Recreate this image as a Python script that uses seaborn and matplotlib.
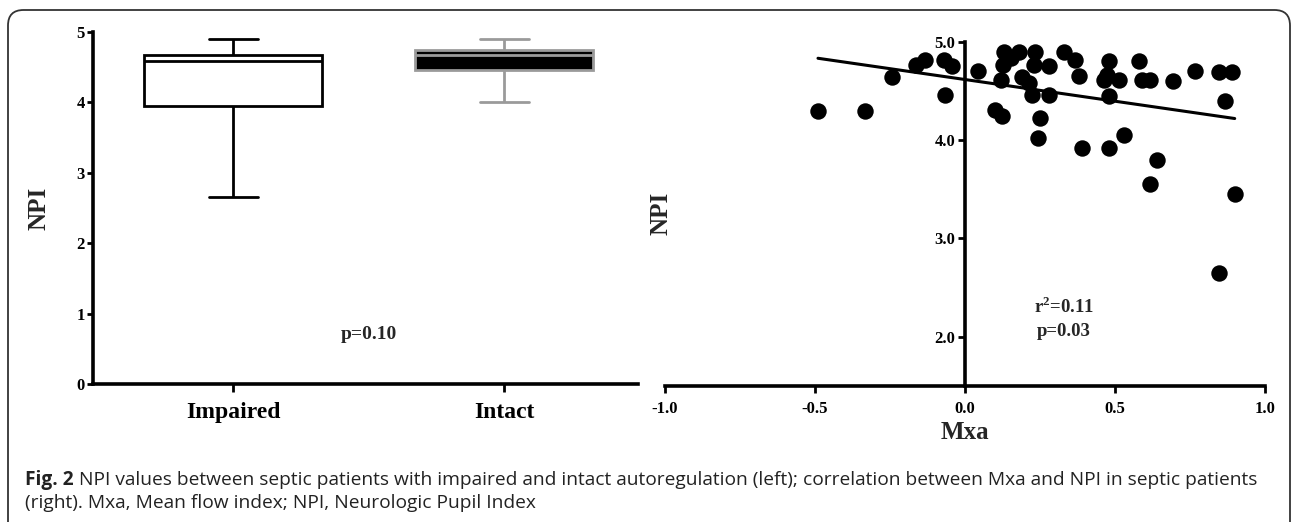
import numpy as np
import matplotlib
matplotlib.use("Agg")
import matplotlib.pyplot as plt
from matplotlib.patches import FancyBboxPatch
import pandas as pd
import seaborn as sns

# five-number summaries: min, Q1, median, Q3, max
groups = ["Impaired", "Intact"]
impaired = [2.65, 3.95, 4.59, 4.67, 4.90]
intact = [4.00, 4.46, 4.67, 4.75, 4.90]

# scatter data (Mxa vs NPI)
mxa = [-0.49, -0.333, -0.243, -0.164, -0.132, -0.069, -0.042, -0.066, 0.043, 0.101,
       0.123, 0.121, 0.129, 0.127, 0.153, 0.181, 0.19, 0.212, 0.232, 0.229,
       0.223, 0.251, 0.242, 0.281, 0.281, 0.329, 0.366, 0.379, 0.39, 0.462,
       0.479, 0.475, 0.479, 0.479, 0.512, 0.529, 0.579, 0.59, 0.618, 0.618,
       0.639, 0.694, 0.768, 0.847, 0.889, 0.868, 0.847, 0.899]
npi = [4.30, 4.30, 4.64, 4.76, 4.81, 4.81, 4.75, 4.46, 4.70, 4.31,
       4.24, 4.61, 4.90, 4.76, 4.83, 4.90, 4.64, 4.58, 4.90, 4.76,
       4.46, 4.22, 4.02, 4.75, 4.46, 4.90, 4.81, 4.65, 3.92, 4.61,
       4.80, 4.66, 4.45, 3.92, 4.61, 4.05, 4.80, 4.61, 4.61, 3.55,
       3.80, 4.60, 4.70, 4.69, 4.69, 4.40, 2.65, 3.45]

sns.set_style("ticks")
plt.rcParams['font.family'] = ['Liberation Serif', 'DejaVu Serif']
plt.rcParams['font.weight'] = 'bold'
plt.rcParams['mathtext.fontset'] = 'custom'
plt.rcParams['mathtext.bf'] = 'Liberation Serif:bold'
plt.rcParams['mathtext.rm'] = 'Liberation Serif:bold'

fig = plt.figure(figsize=(12.92, 5.22), dpi=100)

# ---- left: box plot
ax1 = fig.add_axes([0.072, 0.2644, 0.422, 0.6743])
lw = 2.0
sns.boxplot(x=["Impaired"] * len(impaired), y=impaired, order=groups, ax=ax1,
            whis=(0, 100), width=0.657, color="white", linecolor="black",
            saturation=1, linewidth=lw, capwidths=0.18)
sns.boxplot(x=["Intact"] * len(intact), y=intact, order=groups, ax=ax1,
            whis=(0, 100), width=0.657, color="black", linecolor="#9a9a9a",
            saturation=1, linewidth=lw, capwidths=0.18)
ax1.set_xlim(-0.517, 1.494)
ax1.set_ylim(0, 5)
ax1.set_yticks([0, 1, 2, 3, 4, 5])
ax1.set_xlabel("")
ax1.set_ylabel("NPI", fontsize=18, fontweight='bold')
ax1.yaxis.set_label_coords(-0.078, 0.5)
sns.despine(ax=ax1)
for s in ["left", "bottom"]:
    ax1.spines[s].set_linewidth(2.6)
    ax1.spines[s].set_color("black")
ax1.tick_params(axis='y', labelsize=12, length=4, width=2, pad=2, colors="black")
ax1.tick_params(axis='x', labelsize=17, length=6, width=2, pad=7, colors="black")
ax1.text(0.5, 0.7, "p=0.10", fontsize=14, fontweight='bold', ha='center', va='center')

# ---- right: scatter with regression
ax2 = fig.add_axes([0.5147, 0.261, 0.4644, 0.659])
df = pd.DataFrame({"Mxa": mxa, "NPI": npi})
sns.regplot(data=df, x="Mxa", y="NPI", ax=ax2, ci=None, color="black",
            scatter_kws=dict(s=140, alpha=1, linewidths=0, clip_on=False),
            line_kws=dict(lw=2.2))
ax2.set_xlim(-1.0, 1.0)
ax2.set_ylim(1.5, 5.0)
ax2.set_xticks([-1.0, -0.5, 0.0, 0.5, 1.0])
ax2.set_xticklabels(["-1.0", "-0.5", "0.0", "0.5", "1.0"])
ax2.set_yticks([2.0, 3.0, 4.0, 5.0])
ax2.set_yticklabels(["2.0", "3.0", "4.0", "5.0"])
ax2.spines["left"].set_position(("data", 0))
sns.despine(ax=ax2)
for s in ["left", "bottom"]:
    ax2.spines[s].set_linewidth(2.6)
    ax2.spines[s].set_color("black")
ax2.tick_params(axis='both', labelsize=12, length=5, width=2, pad=2, colors="black")
ax2.tick_params(axis='x', pad=6)
ax2.set_xlabel("Mxa", fontsize=18, fontweight='bold', labelpad=3)
ax2.set_ylabel("NPI", fontsize=18, fontweight='bold')
ax2.yaxis.set_label_coords(0.013, 0.5)
ax2.text(0.33, 2.31, r"r$^{\mathbf{2}}$=0.11", fontsize=13.5, fontweight='bold',
         ha='center', va='center')
ax2.text(0.33, 2.05, "p=0.03", fontsize=13.5, fontweight='bold', ha='center', va='center')

# ---- frame and caption
frame = FancyBboxPatch((8 / 1292, -0.2), 1282 / 1292, 0.2 + 1 - 10 / 522,
                       boxstyle="round,pad=0,rounding_size=0.012",
                       mutation_aspect=1292 / 522,
                       transform=fig.transFigure, fill=False,
                       edgecolor="#333333", lw=1.3, clip_on=False)
fig.patches.append(frame)

cap_font = ['Open Sans', 'DejaVu Sans']
cap_size = 13.8
t1 = fig.text(25 / 1292, 1 - 480 / 522, "Fig. 2", family=cap_font, fontweight='bold',
              fontsize=cap_size, va='center', color="#222222")
fig.canvas.draw()
bb = t1.get_window_extent().transformed(fig.transFigure.inverted())
fig.text(bb.x1 + 5 / 1292, 1 - 480 / 522,
         "NPI values between septic patients with impaired and intact autoregulation (left); "
         "correlation between Mxa and NPI in septic patients",
         family=cap_font, fontweight='normal', fontsize=cap_size, va='center', color="#222222")
fig.text(25 / 1292, 1 - 503 / 522,
         "(right). Mxa, Mean flow index; NPI, Neurologic Pupil Index",
         family=cap_font, fontweight='normal', fontsize=cap_size, va='center', color="#222222")

fig.savefig("out.png", dpi=100)
